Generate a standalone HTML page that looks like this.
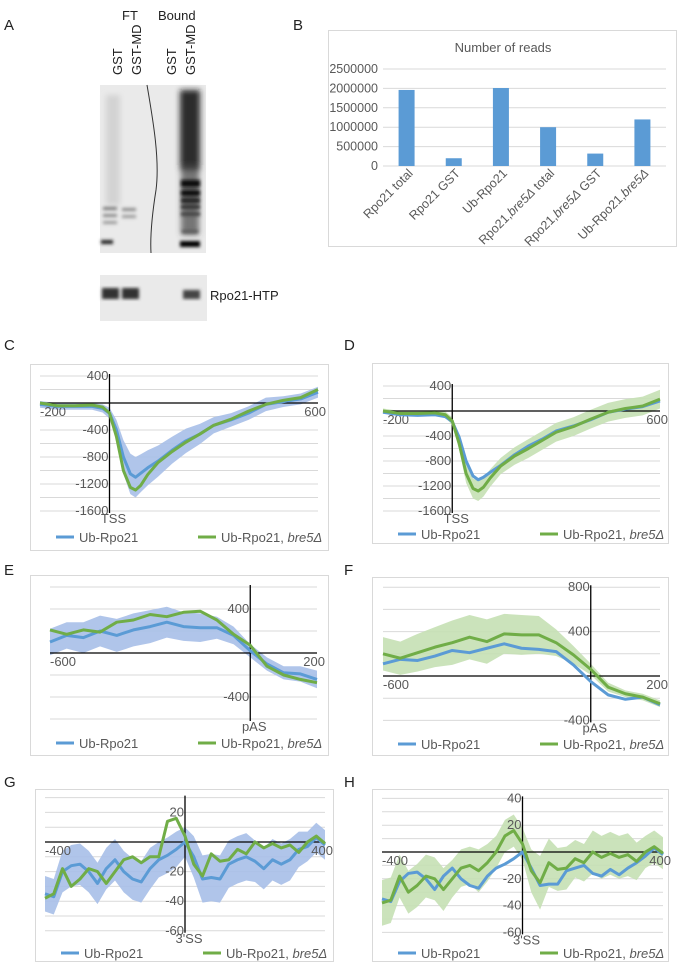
<!DOCTYPE html>
<html><head><meta charset="utf-8">
<style>
html,body{margin:0;padding:0;background:#fff;}
svg{display:block;font-family:"Liberation Sans",sans-serif;}
</style></head>
<body>
<svg id="fig" width="678" height="962" viewBox="0 0 678 962" xmlns="http://www.w3.org/2000/svg">
<defs>
<filter id="blur1" x="-20%" y="-20%" width="140%" height="140%"><feGaussianBlur stdDeviation="1.5"/></filter>
<filter id="blur2" x="-20%" y="-20%" width="140%" height="140%"><feGaussianBlur stdDeviation="3"/></filter>
</defs>
<g>
<text x="4" y="30" font-size="15" fill="#222">A</text>
<text x="122" y="20" font-size="13" fill="#222">FT</text>
<text x="158" y="20" font-size="13" fill="#222">Bound</text>
<text transform="translate(122,75) rotate(-90)" font-size="13" fill="#222">GST</text>
<text transform="translate(141,75) rotate(-90)" font-size="13" fill="#222">GST-MD</text>
<text transform="translate(176,75) rotate(-90)" font-size="13" fill="#222">GST</text>
<text transform="translate(195,75) rotate(-90)" font-size="13" fill="#222">GST-MD</text>
<g>
<rect x="100" y="85" width="106" height="168" fill="#eaeaea"/>
<g filter="url(#blur2)">
<rect x="180" y="90" width="20" height="80" fill="#1a1a1a" opacity="0.9"/>
<rect x="181" y="165" width="18" height="70" fill="#444" opacity="0.7"/>
<rect x="106" y="95" width="14" height="110" fill="#bbb" opacity="0.5"/>
</g>
<g filter="url(#blur1)">
<rect x="181" y="180" width="19" height="7" fill="#111"/>
<rect x="181" y="190" width="19" height="6" fill="#111"/>
<rect x="181" y="198" width="19" height="5" fill="#222"/>
<rect x="181" y="205" width="19" height="4" fill="#333"/>
<rect x="181" y="212" width="19" height="4" fill="#444"/>
<rect x="182" y="230" width="16" height="3" fill="#555"/>
<rect x="180" y="241" width="20" height="6" fill="#000"/>
<rect x="103" y="207" width="14" height="3" fill="#777"/>
<rect x="103" y="214" width="14" height="3" fill="#888"/>
<rect x="103" y="221" width="14" height="3" fill="#999"/>
<rect x="122" y="208" width="14" height="3" fill="#888"/>
<rect x="122" y="215" width="14" height="3" fill="#999"/>
<rect x="101" y="240" width="12" height="4" fill="#222"/>
</g>
<path d="M147,85 C153,120 160,160 156,190 C152,215 150,235 151,253" stroke="#333" stroke-width="1" fill="none"/>
</g>
<g>
<rect x="100" y="275" width="107" height="46" fill="#eaeaea"/>
<g filter="url(#blur1)">
<rect x="102" y="288" width="17" height="11" fill="#333"/>
<rect x="122" y="288" width="17" height="11" fill="#333"/>
<rect x="183" y="290" width="17" height="9" fill="#444"/>
</g>
</g>
<text x="210" y="300" font-size="13" fill="#222">Rpo21-HTP</text>
</g>
<text x="293" y="30" font-size="15" fill="#222">B</text>
<g id="barChart"></g>
<g id="lines"></g>
</svg>
<script>
const barCategories = ["Rpo21 total","Rpo21 GST","Ub-Rpo21","Rpo21,bre5Δ total","Rpo21,bre5Δ GST","Ub-Rpo21,bre5Δ"];
const barValues = [1960000,200000,2010000,1000000,320000,1200000];
const barTicks = [0,500000,1000000,1500000,2000000,2500000];

const xC = [-200,-150,-100,-50,-20,0,20,40,60,75,90,110,140,180,220,260,300,350,400,450,500,550,600];
const blueC = [-20,-50,-50,-50,-80,-150,-400,-800,-1050,-1100,-1040,-960,-860,-700,-560,-460,-330,-250,-150,-20,20,60,160];
const greenC = [0,-40,-40,-30,-60,-150,-500,-1000,-1250,-1290,-1220,-1060,-880,-720,-580,-460,-330,-240,-120,-20,40,80,200];
const bandC = [50,50,50,50,60,80,150,250,300,300,280,260,230,200,180,150,120,100,100,100,80,80,80];
const xD = xC;
const blueD = [-20,-60,-70,-60,-90,-170,-420,-800,-1040,-1100,-1060,-980,-870,-700,-560,-450,-320,-240,-140,-20,30,70,160];
const greenD = [0,-40,-40,-30,-60,-160,-520,-1000,-1240,-1280,-1220,-1070,-880,-720,-600,-470,-340,-250,-130,-20,40,80,190];
const bandD = [40,40,40,40,50,60,100,150,160,160,150,140,130,140,150,150,150,150,150,150,150,150,150];
const xE = [-600,-550,-500,-450,-400,-350,-300,-250,-200,-150,-100,-50,0,50,100,150,200];
const blueE = [100,160,140,200,160,210,240,280,240,230,230,160,20,-100,-180,-190,-240];
const greenE = [210,170,210,190,280,300,350,330,370,380,300,170,70,-120,-200,-240,-270];
const bandE = [120,120,140,140,150,150,150,140,130,130,100,80,60,60,60,70,80];
const xF = xE;
const blueF = [110,150,140,180,230,210,250,290,250,240,220,100,-50,-170,-210,-190,-260];
const greenF = [200,160,210,260,300,350,310,380,370,370,300,190,60,-100,-160,-190,-250];
const bandF = [150,150,170,180,200,200,200,180,180,170,120,80,50,40,30,30,30];
const xG = [-400,-375,-350,-325,-300,-275,-250,-225,-200,-175,-150,-125,-100,-75,-50,-25,0,25,50,75,100,125,150,175,200,225,250,275,300,325,350,375,400];
const blueG = [-35,-37,-20,-16,-15,-20,-28,-18,-12,-20,-25,-27,-18,-12,-9,-5,0,-10,-25,-24,-25,-15,-12,-10,-13,-18,-12,-15,-12,-5,-3,3,-2];
const greenG = [-38,-35,-18,-30,-25,-18,-20,-28,-20,-12,-10,-14,-10,-10,14,16,4,-15,-23,-8,-13,-12,-5,-8,0,-4,-1,-4,-2,-7,0,4,-1];
const bandG = [12,12,14,14,14,14,14,14,14,14,14,14,14,12,12,12,10,14,16,16,16,16,16,16,14,14,14,14,14,12,10,10,10];
const xH = xG;
const blueH = [-35,-37,-22,-16,-15,-20,-28,-18,-12,-20,-25,-27,-18,-12,-9,-5,0,-12,-25,-24,-24,-14,-12,-10,-16,-18,-13,-17,-12,-8,-3,3,-2];
const greenH = [-38,-36,-18,-30,-25,-18,-20,-28,-20,-12,-10,-14,-8,0,12,16,6,-14,-23,-8,-13,-12,-5,-8,0,-4,-1,-4,-2,-7,0,4,-1];
const bandH = [17,17,16,16,16,16,16,16,14,14,14,16,14,12,12,12,12,16,20,18,16,16,14,14,16,16,16,16,16,14,12,12,12];

const NS = "http://www.w3.org/2000/svg";
function mk(parent, tag, attrs){
  const el = document.createElementNS(NS, tag);
  for (const k in attrs) el.setAttribute(k, attrs[k]);
  parent.appendChild(el);
  return el;
}
const GRAY="#595959", GRID="#d9d9d9", BLUE="#5b9bd5", GREEN="#70ad47";

(function(){
  const g = document.getElementById('barChart');
  const fr = mk(g,'rect',{x:328.5,y:30.5,width:348,height:216,fill:'#fff',stroke:'#d9d9d9'});
  
  
  const t = mk(g,'text',{x:503,y:52,'font-size':13,fill:GRAY,'text-anchor':'middle'});
  t.textContent='Number of reads';
  
  
  const x0=383,x1=666,yBase=166,yTop=69,vmax=2500000;
  const ys=v=>yBase-(v/vmax)*(yBase-yTop);
  const step=(x1-x0)/barCategories.length;
  const xs=i=>x0+step*(i+0.5);
  barTicks.forEach(v=>{
    const l=mk(g,'line',{x1:x0,x2:x1,y1:ys(v),y2:ys(v),stroke:GRID,'stroke-width':1});
    
    
    const tx=mk(g,'text',{x:378,y:ys(v)+4,'font-size':12.5,fill:GRAY,'text-anchor':'end'});
    tx.textContent=String(v);
    
    
  });
  barValues.forEach((v,i)=>{
    const r=mk(g,'rect',{x:xs(i)-8,y:ys(v),width:16,height:yBase-ys(v),fill:BLUE});
    
    
  });
  barCategories.forEach((c,i)=>{
    const tx=mk(g,'text',{transform:`translate(${xs(i)+7},${yBase+8}) rotate(-45)`,'font-size':12.5,fill:GRAY,'text-anchor':'end'});
    const m=c.match(/^(.*?)(bre5Δ)(.*)$/);
    if(m){
      mk(tx,'tspan',{}).textContent=m[1];
      mk(tx,'tspan',{'font-style':'italic'}).textContent=m[2];
      mk(tx,'tspan',{}).textContent=m[3];
    } else tx.textContent=c;
    
    
  });
})();

const panels=[
 {id:'c',label:'C',lx:4,ly:350,frame:[30,364,298,186],px0:40,px1:318,xmin:-200,xmax:600,y0:403,k:0.0675,grid:[-1600,400,200],ticks:[400,-400,-800,-1200,-1600],xl:['-200','600'],site:'TSS',xs:xC,blue:blueC,green:greenC,band:bandC,bandOn:'blue',leg:537},
 {id:'d',label:'D',lx:344,ly:350,frame:[372,363,296,180],px0:383,px1:660,xmin:-200,xmax:600,y0:411,k:0.0625,grid:[-1600,400,200],ticks:[400,-400,-800,-1200,-1600],xl:['-200','600'],site:'TSS',xs:xD,blue:blueD,green:greenD,band:bandD,bandOn:'green',leg:534},
 {id:'e',label:'E',lx:4,ly:575,frame:[30,575,298,180],px0:50,px1:317,xmin:-600,xmax:200,y0:653,k:0.11,grid:[-600,600,200],ticks:[400,-400],xl:['-600','200'],site:'pAS',xs:xE,blue:blueE,green:greenE,band:bandE,bandOn:'blue',leg:743},
 {id:'f',label:'F',lx:344,ly:575,frame:[372,577,296,178],px0:383,px1:660,xmin:-600,xmax:200,y0:676,k:0.111,grid:[-400,800,200],ticks:[800,400,-400],xl:['-600','200'],site:'pAS',xs:xF,blue:blueF,green:greenF,band:bandF,bandOn:'green',leg:744},
 {id:'g',label:'G',lx:4,ly:787,frame:[35,789,298,172],px0:45,px1:325,xmin:-400,xmax:400,y0:842,k:1.48,grid:[-60,30,10],ticks:[20,-20,-40,-60],xl:['-400','400'],site:"3'SS",xs:xG,blue:blueG,green:greenG,band:bandG,bandOn:'blue',leg:953},
 {id:'h',label:'H',lx:344,ly:787,frame:[372,789,296,172],px0:382,px1:663,xmin:-400,xmax:400,y0:852,k:1.34,grid:[-60,40,10],ticks:[40,20,-20,-40,-60],xl:['-400','400'],site:"3'SS",xs:xH,blue:blueH,green:greenH,band:bandH,bandOn:'green',leg:953}
];
const root=document.getElementById('lines');
panels.forEach(p=>{
  const g=mk(root,'g',{});
  
  
  const L=mk(g,'text',{x:p.lx,y:p.ly,'font-size':15,fill:'#222'});
  L.textContent=p.label;
  
  
  const [fx,fy,fw,fh]=p.frame;
  const fr=mk(g,'rect',{x:fx+0.5,y:fy+0.5,width:fw,height:fh,fill:'#fff',stroke:'#d9d9d9'});
  
  
  const sx=v=>p.px0+(v-p.xmin)/(p.xmax-p.xmin)*(p.px1-p.px0);
  const sy=v=>p.y0-v*p.k;
  const gx0=sx(0);
  for(let v=p.grid[0];v<=p.grid[1];v+=p.grid[2]){
    const l=mk(g,'line',{x1:p.px0,x2:p.px1,y1:sy(v),y2:sy(v),stroke:GRID,'stroke-width':1});
    
    
  }
  const bandBase=p.bandOn==='blue'?p.blue:p.green;
  let pts=p.xs.map((x,i)=>sx(x)+','+sy(bandBase[i]+p.band[i]));
  pts=pts.concat(p.xs.map((x,i)=>sx(x)+','+sy(bandBase[i]-p.band[i])).reverse());
  const band=mk(g,'polygon',{points:pts.join(' '),fill:p.bandOn==='blue'?'#a7bfe8':'#c5e0b4',opacity:0.9});
  
  
  const ax=mk(g,'line',{x1:p.px0,x2:p.px1,y1:sy(0),y2:sy(0),stroke:'#000','stroke-width':1.3});
  
  
  const ay=mk(g,'line',{x1:gx0,x2:gx0,y1:sy(p.grid[1])-2,y2:sy(p.grid[0])+2,stroke:'#000','stroke-width':1.3});
  
  
  p.ticks.forEach(v=>{
    const t=mk(g,'text',{x:gx0-1,y:sy(v)+4,'font-size':13,fill:GRAY,'text-anchor':'end'});
    t.textContent=String(v);
    
    
  });
  const xa=mk(g,'text',{x:p.px0,y:sy(0)+13,'font-size':13,fill:GRAY});
  xa.textContent=p.xl[0];
  
  
  const xb=mk(g,'text',{x:p.px1+8,y:sy(0)+13,'font-size':13,fill:GRAY,'text-anchor':'end'});
  xb.textContent=p.xl[1];
  
  
  const st=mk(g,'text',{x:gx0+4,y:sy(p.grid[0])+12,'font-size':13,fill:GRAY,'text-anchor':'middle'});
  st.textContent=p.site;
  
  
  const lb=mk(g,'polyline',{points:p.xs.map((x,i)=>sx(x)+','+sy(p.blue[i])).join(' '),fill:'none',stroke:BLUE,'stroke-width':3,'stroke-linejoin':'round'});
  
  
  const lg=mk(g,'polyline',{points:p.xs.map((x,i)=>sx(x)+','+sy(p.green[i])).join(' '),fill:'none',stroke:GREEN,'stroke-width':3,'stroke-linejoin':'round'});
  
  
  const lx=fx+26;
  const l1=mk(g,'line',{x1:lx,x2:lx+18,y1:p.leg,y2:p.leg,stroke:BLUE,'stroke-width':3});
  
  
  const t1=mk(g,'text',{x:lx+23,y:p.leg+5,'font-size':13,fill:GRAY});
  t1.textContent='Ub-Rpo21';
  
  
  const l2=mk(g,'line',{x1:lx+142,x2:lx+160,y1:p.leg,y2:p.leg,stroke:GREEN,'stroke-width':3});
  
  
  const t2=mk(g,'text',{x:lx+165,y:p.leg+5,'font-size':13,fill:GRAY});
  mk(t2,'tspan',{}).textContent='Ub-Rpo21, ';
  mk(t2,'tspan',{'font-style':'italic'}).textContent='bre5Δ';
  
  
});
</script>
</body></html>
